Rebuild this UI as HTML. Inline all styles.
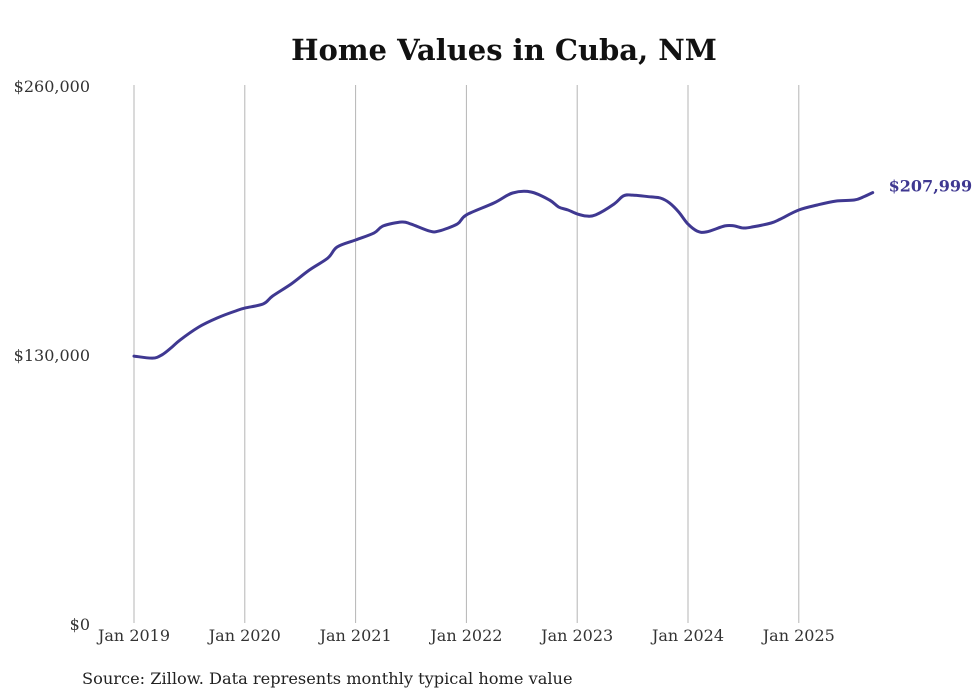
<!DOCTYPE html>
<html><head><meta charset="utf-8"><style>
body{margin:0;background:#fff;}
svg{display:block;font-family:"DejaVu Serif","Liberation Serif",serif;}
</style></head><body>
<svg id="chart" width="980" height="699" viewBox="0 0 980 699">
<text x="504" y="60" text-anchor="middle" font-size="29" font-weight="bold" fill="#111">Home Values in Cuba, NM</text>
<g id="grid"></g><g id="yaxis"></g><g id="xaxis"></g><g id="series"></g>
<text x="82" y="684" font-size="16.2" fill="#222">Source: Zillow. Data represents monthly typical home value</text>
</svg>
<script>
const months=[0,2,3,4,5,7,9,11,12,14,15,17,19,21,22,24,26,27,29,30,32,33,35,36,39,41,43,45,46,47,48,49,50,52,53,54,56,57,58,59,60,61,62,64,65,66,67,69,70,72,74,76,78,79,80];
const values=[129000,128000,129500,132900,136800,143000,147400,150800,152200,154200,158000,163800,170600,176400,181700,185100,188500,191900,193800,192800,189400,189400,192800,197200,203000,207800,208300,204400,201000,199600,197700,196700,197200,202500,206400,206800,205900,205400,203000,198600,192800,189400,189000,191900,191900,190900,191400,193300,195200,199600,202000,203900,204400,205900,207999];
const yTicks=[0,130000,260000];
const yTickLabels=["$0","$130,000","$260,000"];
const xTickMonths=[0,12,24,36,48,60,72];
const xTickLabels=["Jan 2019","Jan 2020","Jan 2021","Jan 2022","Jan 2023","Jan 2024","Jan 2025"];
const lastLabel="$207,999";
const NS="http://www.w3.org/2000/svg";
const X=m=>134+m*(110.8/12);
const Y=v=>623-v/260000*538;
function mk(t,a,p){const e=document.createElementNS(NS,t);for(const k in a)e.setAttribute(k,a[k]);document.getElementById(p).appendChild(e);return e;}
xTickMonths.forEach((m,i)=>{
 const l=mk('line',{x1:X(m),x2:X(m),y1:85,y2:623,stroke:'#b5b5b5','stroke-width':1},'grid');
 
 
 const t=mk('text',{x:X(m),y:641,'text-anchor':'middle','font-size':16,fill:'#333'},'xaxis');
 t.textContent=xTickLabels[i];
 
 
});
yTicks.forEach((v,i)=>{
 const t=mk('text',{x:90,y:Y(v)+7,'text-anchor':'end','font-size':16,fill:'#333'},'yaxis');
 t.textContent=yTickLabels[i];
 
 
});
// smooth path (catmull-rom)
const P=months.map((m,i)=>[X(m),Y(values[i])]);
let d='M'+P[0][0].toFixed(1)+','+P[0][1].toFixed(1);
for(let i=0;i<P.length-1;i++){
 const p0=P[i-1]||P[i],p1=P[i],p2=P[i+1],p3=P[i+2]||P[i+1];
 const c1=[p1[0]+(p2[0]-p0[0])/6,p1[1]+(p2[1]-p0[1])/6];
 const c2=[p2[0]-(p3[0]-p1[0])/6,p2[1]-(p3[1]-p1[1])/6];
 d+=' C'+c1.map(v=>v.toFixed(1))+' '+c2.map(v=>v.toFixed(1))+' '+p2.map(v=>v.toFixed(1));
}
const pl=mk('path',{d:d,fill:'none',stroke:'#3f3891','stroke-width':3,'stroke-linejoin':'round','stroke-linecap':'round'},'series');


const n=months.length-1;
const lt=mk('text',{x:X(months[n])+16,y:Y(values[n])-1,'font-size':16,'font-weight':'bold',fill:'#3f3891'},'series');
lt.textContent=lastLabel;


</script>
</body></html>
